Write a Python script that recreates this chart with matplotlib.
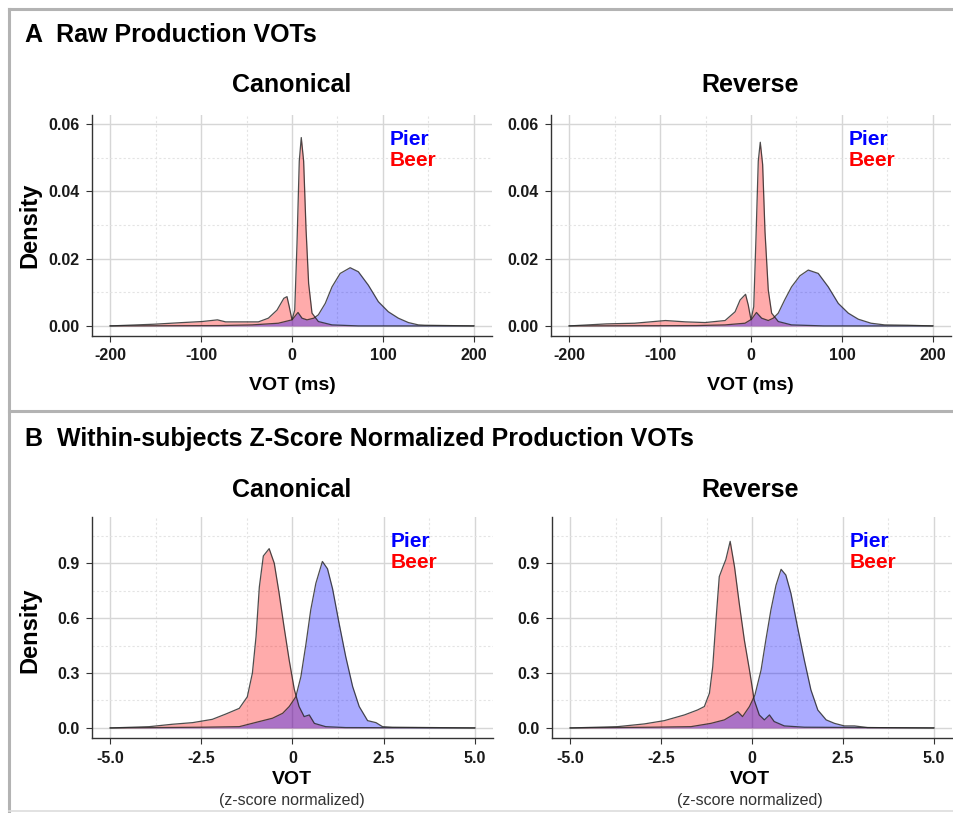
import numpy as np
import matplotlib
matplotlib.use("Agg")
import matplotlib.pyplot as plt
from matplotlib.lines import Line2D

plt.rcParams['font.family'] = ['Liberation Sans', 'DejaVu Sans']

# raw VOT (ms) densities, canonical
a_can_beer_x = [-200, -152, -120, -99, -82, -73, -37, -26, -16.5, -9, -5.5, -3, 0, 3, 5.5, 8, 10.2, 12.8, 15.4, 18.3, 22, 29, 44, 73, 200]
a_can_beer_y = [0, 0.0005, 0.0010, 0.0013, 0.0018, 0.0012, 0.0012, 0.0023, 0.0047, 0.0082, 0.0087, 0.0057, 0.0018, 0.0047, 0.0245, 0.049, 0.056, 0.049, 0.029, 0.0126, 0.0038, 0.0013, 0.0003, 0, 0]
a_can_pier_x = [-200, -80, -44, -15, 0, 6.6, 11, 16.5, 24, 29, 36.6, 44, 53, 64, 73, 84, 95, 106, 117, 128, 139, 146, 200]
a_can_pier_y = [0, 0.0001, 0.0003, 0.0008, 0.0018, 0.0040, 0.0023, 0.0018, 0.0023, 0.0033, 0.0067, 0.0116, 0.0156, 0.0173, 0.0161, 0.0121, 0.0072, 0.0042, 0.0023, 0.0010, 0.0003, 0.0002, 0]

# raw VOT (ms) densities, reverse
a_rev_beer_x = [-200, -159, -128, -94, -72, -50.5, -28.5, -17.5, -12, -6, -3, 0, 3, 5.5, 8, 10.2, 12.8, 15.4, 19, 22.7, 30, 44.6, 80, 200]
a_rev_beer_y = [0, 0.0006, 0.0008, 0.0016, 0.0012, 0.0010, 0.0016, 0.0042, 0.0077, 0.0094, 0.0062, 0.0018, 0.0057, 0.0264, 0.049, 0.0546, 0.048, 0.028, 0.0107, 0.0038, 0.0013, 0.0003, 0, 0]
a_rev_pier_x = [-200, -60, -28.5, -6.6, 0.7, 6, 11.7, 19, 24.5, 30, 37, 44.6, 53.8, 63, 74, 85, 96, 107, 118, 132, 147, 172, 200]
a_rev_pier_y = [0, 0.0001, 0.0003, 0.0008, 0.0020, 0.0040, 0.0023, 0.0016, 0.0023, 0.0038, 0.0077, 0.0116, 0.0149, 0.0166, 0.0156, 0.0116, 0.0067, 0.0038, 0.0020, 0.0008, 0.0003, 0.0002, 0]

# z-score densities, canonical
b_can_beer_x = [-5, -3.93, -3.3, -2.74, -2.2, -1.83, -1.46, -1.24, -1.1, -1.0, -0.91, -0.8, -0.64, -0.5, -0.37, -0.23, -0.09, 0.05, 0.18, 0.32, 0.46, 0.6, 0.91, 1.46, 5]
b_can_beer_y = [0, 0.007, 0.02, 0.029, 0.047, 0.076, 0.107, 0.17, 0.30, 0.50, 0.77, 0.94, 0.98, 0.90, 0.74, 0.55, 0.37, 0.21, 0.117, 0.062, 0.071, 0.025, 0.007, 0.002, 0]
b_can_pier_x = [-5, -2.47, -1.46, -0.91, -0.55, -0.27, -0.09, 0.09, 0.23, 0.37, 0.5, 0.64, 0.82, 0.96, 1.1, 1.28, 1.46, 1.65, 1.83, 2.06, 2.29, 2.47, 2.74, 5]
b_can_pier_y = [0, 0.004, 0.007, 0.035, 0.053, 0.08, 0.117, 0.17, 0.28, 0.46, 0.645, 0.79, 0.91, 0.87, 0.76, 0.57, 0.39, 0.226, 0.117, 0.04, 0.029, 0.007, 0.004, 0]

# z-score densities, reverse
b_rev_beer_x = [-5, -3.7, -2.96, -2.41, -1.86, -1.5, -1.31, -1.17, -1.08, -0.99, -0.9, -0.8, -0.72, -0.6, -0.48, -0.35, -0.21, -0.07, 0.06, 0.2, 0.34, 0.48, 0.61, 0.89, 1.44, 5]
b_rev_beer_y = [0, 0.007, 0.022, 0.04, 0.071, 0.098, 0.117, 0.19, 0.335, 0.59, 0.827, 0.88, 0.92, 1.02, 0.88, 0.68, 0.48, 0.317, 0.153, 0.071, 0.044, 0.071, 0.035, 0.011, 0.004, 0]
b_rev_pier_x = [-5, -2.77, -1.68, -1.13, -0.76, -0.53, -0.39, -0.26, -0.07, 0.08, 0.25, 0.38, 0.52, 0.66, 0.8, 0.93, 1.07, 1.25, 1.44, 1.62, 1.81, 2.04, 2.27, 2.54, 2.82, 3.18, 5]
b_rev_pier_y = [0, 0.004, 0.007, 0.025, 0.044, 0.071, 0.089, 0.062, 0.117, 0.18, 0.317, 0.48, 0.645, 0.78, 0.867, 0.836, 0.736, 0.554, 0.37, 0.208, 0.098, 0.044, 0.025, 0.011, 0.011, 0.002, 0]

a_ticks = [-200, -100, 0, 100, 200]
a_ticklabels = ['-200', '-100', '0', '100', '200']
a_yticks = [0.00, 0.02, 0.04, 0.06]
a_yticklabels = ['0.00', '0.02', '0.04', '0.06']
b_ticks = [-5.0, -2.5, 0, 2.5, 5.0]
b_ticklabels = ['-5.0', '-2.5', '0', '2.5', '5.0']
b_yticks = [0.0, 0.3, 0.6, 0.9]
b_yticklabels = ['0.0', '0.3', '0.6', '0.9']

W, H = 954, 813
fig = plt.figure(figsize=(W/100, H/100), dpi=100)

def px_axes(left, right, top, bottom):
    return fig.add_axes([left/W, 1 - bottom/H, (right-left)/W, (bottom-top)/H])

def style(ax, xt, xtl, yt, ytl, xlim, ylim, xminor, yminor):
    ax.set_xlim(xlim)
    ax.set_ylim(ylim)
    ax.set_xticks(xt)
    ax.set_xticklabels(xtl)
    ax.set_yticks(yt)
    ax.set_yticklabels(ytl)
    ax.set_xticks(xminor, minor=True)
    ax.set_yticks(yminor, minor=True)
    ax.grid(True, which='major', color='#d6d6d6', lw=1.0)
    ax.grid(True, which='minor', color='#e4e4e4', lw=0.8, ls=(0, (2, 2)))
    ax.set_axisbelow(True)
    for s in ['top', 'right']:
        ax.spines[s].set_visible(False)
    for s in ['left', 'bottom']:
        ax.spines[s].set_color('#333333')
        ax.spines[s].set_linewidth(1.0)
    ax.tick_params(which='major', length=4, color='#333333', width=0.8, pad=5)
    ax.tick_params(which='minor', length=0)
    for lab in ax.get_xticklabels() + ax.get_yticklabels():
        lab.set_fontweight('bold')
        lab.set_fontsize(11.5)
        lab.set_color('#1a1a1a')

def dens(ax, x, y, col):
    ax.fill_between(x, 0, y, color=col, alpha=0.33, lw=0)
    ax.plot(x, y, color='#222222', lw=0.9, alpha=0.8)

def labels(ax):
    ax.text(0.745, 0.887, 'Pier', color='#0000ff', fontsize=15, fontweight='bold',
            transform=ax.transAxes, va='center', ha='left')
    ax.text(0.745, 0.792, 'Beer', color='#ff0000', fontsize=15, fontweight='bold',
            transform=ax.transAxes, va='center', ha='left')

# panel A
ax1 = px_axes(92, 492, 115, 336)
dens(ax1, a_can_beer_x, a_can_beer_y, 'red')
dens(ax1, a_can_pier_x, a_can_pier_y, 'blue')
style(ax1, a_ticks, a_ticklabels, a_yticks, a_yticklabels, (-220, 220), (-0.003, 0.0627),
      [-150, -50, 50, 150], [0.01, 0.03, 0.05])
labels(ax1)

ax2 = px_axes(551, 951, 115, 336)
dens(ax2, a_rev_beer_x, a_rev_beer_y, 'red')
dens(ax2, a_rev_pier_x, a_rev_pier_y, 'blue')
style(ax2, a_ticks, a_ticklabels, a_yticks, a_yticklabels, (-220, 220), (-0.003, 0.0627),
      [-150, -50, 50, 150], [0.01, 0.03, 0.05])
labels(ax2)

# panel B
ax3 = px_axes(92, 493, 517, 738)
dens(ax3, b_can_beer_x, b_can_beer_y, 'red')
dens(ax3, b_can_pier_x, b_can_pier_y, 'blue')
style(ax3, b_ticks, b_ticklabels, b_yticks, b_yticklabels, (-5.5, 5.5), (-0.055, 1.153),
      [-3.75, -1.25, 1.25, 3.75], [0.15, 0.45, 0.75, 1.05])
labels(ax3)

ax4 = px_axes(552, 952, 517, 738)
dens(ax4, b_rev_beer_x, b_rev_beer_y, 'red')
dens(ax4, b_rev_pier_x, b_rev_pier_y, 'blue')
style(ax4, b_ticks, b_ticklabels, b_yticks, b_yticklabels, (-5.5, 5.5), (-0.055, 1.153),
      [-3.75, -1.25, 1.25, 3.75], [0.15, 0.45, 0.75, 1.05])
labels(ax4)

def ftext(x, y, s, **kw):
    fig.text(x/W, 1 - y/H, s, **kw)

ftext(25, 35, 'A  Raw Production VOTs', fontsize=18, fontweight='bold', va='center', ha='left')
ftext(292, 85, 'Canonical', fontsize=18, fontweight='bold', va='center', ha='center')
ftext(750, 85, 'Reverse', fontsize=18, fontweight='bold', va='center', ha='center')
ftext(30, 225, 'Density', fontsize=17, fontweight='bold', va='center', ha='center', rotation=90)
ftext(292, 385, 'VOT (ms)', fontsize=14, fontweight='bold', va='center', ha='center')
ftext(750, 385, 'VOT (ms)', fontsize=14, fontweight='bold', va='center', ha='center')

ftext(25, 439, 'B  Within-subjects Z-Score Normalized Production VOTs', fontsize=18, fontweight='bold', va='center', ha='left')
ftext(292, 490, 'Canonical', fontsize=18, fontweight='bold', va='center', ha='center')
ftext(750, 490, 'Reverse', fontsize=18, fontweight='bold', va='center', ha='center')
ftext(30, 630, 'Density', fontsize=17, fontweight='bold', va='center', ha='center', rotation=90)
ftext(292, 779, 'VOT', fontsize=14, fontweight='bold', va='center', ha='center')
ftext(750, 779, 'VOT', fontsize=14, fontweight='bold', va='center', ha='center')
ftext(292, 800, '(z-score normalized)', fontsize=11.5, color='#333333', va='center', ha='center')
ftext(750, 800, '(z-score normalized)', fontsize=11.5, color='#333333', va='center', ha='center')

# panel frames
frame = '#b3b3b3'
fig.add_artist(Line2D([9.5/W, 9.5/W], [0, 1 - 9/H], color=frame, lw=2.2, transform=fig.transFigure))
fig.add_artist(Line2D([9/W, 1], [1 - 9/H, 1 - 9/H], color=frame, lw=2.2, transform=fig.transFigure))
fig.add_artist(Line2D([9/W, 1], [1 - 411/H, 1 - 411/H], color=frame, lw=2.2, transform=fig.transFigure))
fig.add_artist(Line2D([9/W, 1], [1 - 811/H, 1 - 811/H], color='#dddddd', lw=1.2, transform=fig.transFigure))

fig.savefig('out.png', dpi=100)
